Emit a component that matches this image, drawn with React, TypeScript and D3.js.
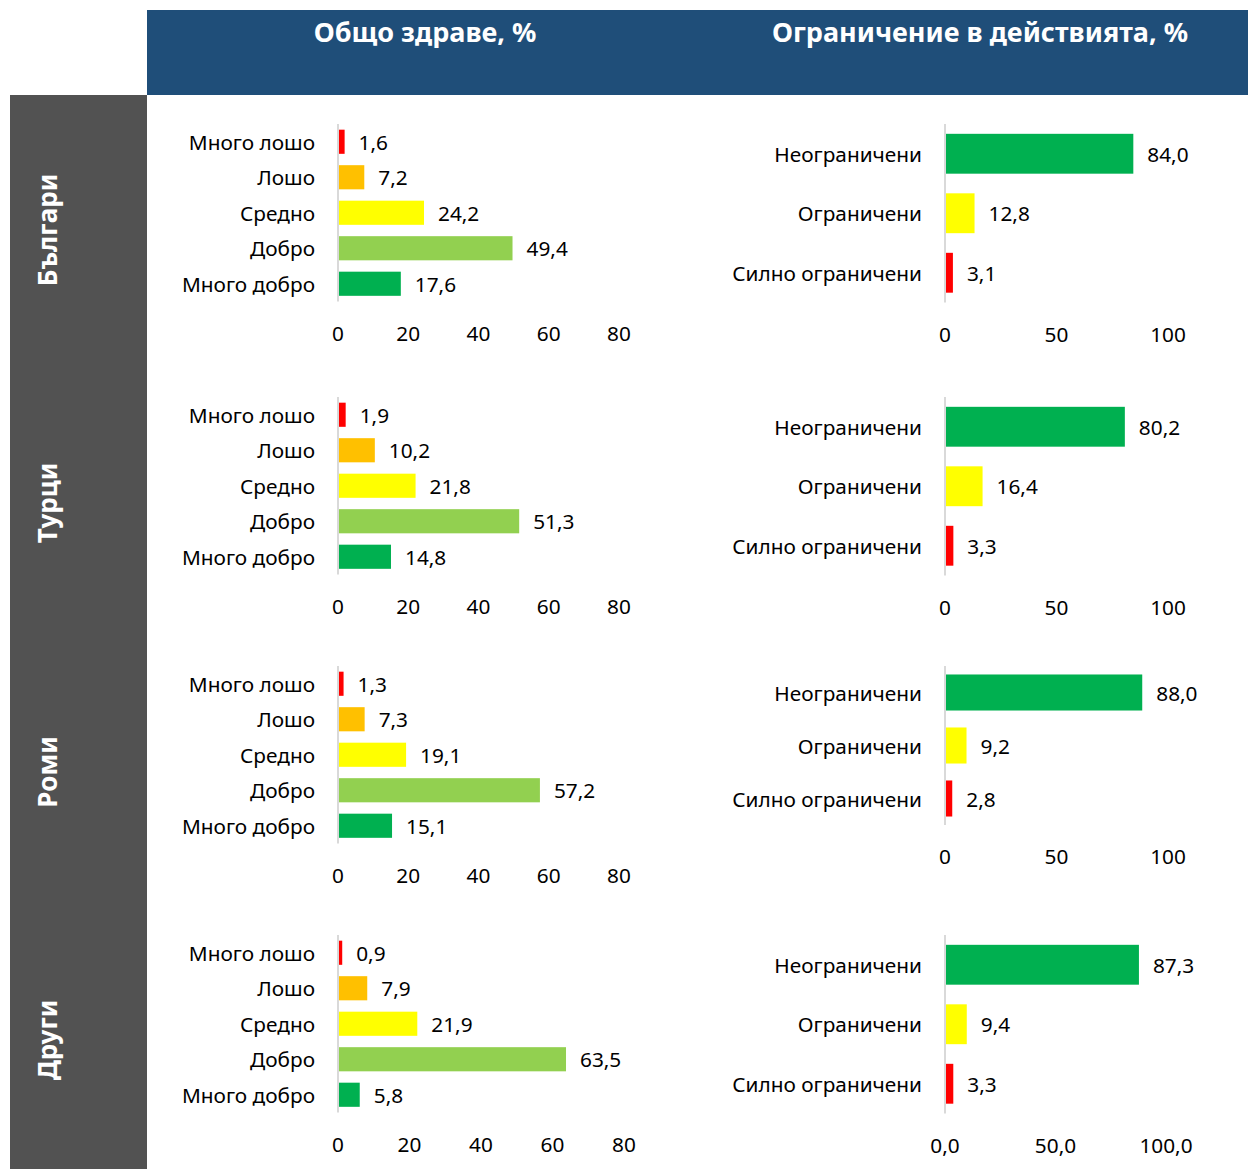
import React from "react"
import * as d3 from "d3"

const groups = ["Българи", "Турци", "Роми", "Други"]

const healthCats = ["Много лошо", "Лошо", "Средно", "Добро", "Много добро"]
const healthColors = ["#FF0000", "#FFC000", "#FFFF00", "#92D050", "#00B050"]
const healthBg = [1.6, 7.2, 24.2, 49.4, 17.6]
const healthTr = [1.9, 10.2, 21.8, 51.3, 14.8]
const healthRo = [1.3, 7.3, 19.1, 57.2, 15.1]
const healthOt = [0.9, 7.9, 21.9, 63.5, 5.8]
const healthTicks = [0, 20, 40, 60, 80]

const limitCats = ["Неограничени", "Ограничени", "Силно ограничени"]
const limitColors = ["#00B050", "#FFFF00", "#FF0000"]
const limitBg = [84.0, 12.8, 3.1]
const limitTr = [80.2, 16.4, 3.3]
const limitRo = [88.0, 9.2, 2.8]
const limitOt = [87.3, 9.4, 3.3]
const limitTicks = [0, 50, 100]

const titleLeft = "Общо здраве, %"
const titleRight = "Ограничение в действията, %"

const healthData = [healthBg, healthTr, healthRo, healthOt]
const limitData = [limitBg, limitTr, limitRo, limitOt]

// layout per row
const rowTops = [124, 397, 666, 935]
const rowLabelY = [230, 503, 772, 1040]
const limitStep = [59.5, 59.5, 53, 59.5]
const font = "'Noto Sans', sans-serif"
const fs = 20.8

const comma = (f: (n: number) => string) => (v: number) => f(v).replace(".", ",")
const fmt1 = comma(d3.format(".1f"))

function Panel({ cats, values, colors, ticks, top, step, barPad, x0, x1, domainMax, labelX, tickFmt }: any) {
    const x = d3.scaleLinear().domain([0, domainMax]).range([x0, x1])
    const y = d3.scaleBand<string>()
        .domain(cats)
        .range([top, top + step * cats.length])
        .paddingInner(barPad)
        .paddingOuter(barPad / 2)
    const bottom = top + step * cats.length
    return (
        <g>
            <line x1={x0} x2={x0} y1={top} y2={bottom} stroke="#d9d9d9" strokeWidth={2} />
            {cats.map((c: string, i: number) => (
                <g key={c}>
                    <rect x={x(0) + 1} y={y(c)} width={Math.max(0, x(values[i]) - x(0))} height={y.bandwidth()} fill={colors[i]} />
                    <text x={labelX} y={y(c)! + y.bandwidth() / 2} textAnchor="end" dominantBaseline="central"
                        fontSize={fs} fill="#000">{c}</text>
                    <text x={x(values[i]) + 15} y={y(c)! + y.bandwidth() / 2} dominantBaseline="central"
                        fontSize={fs} fill="#000">{fmt1(values[i])}</text>
                </g>
            ))}
            {ticks.map((t: number) => (
                <text key={t} x={x(t)} y={bottom + 31} textAnchor="middle" dominantBaseline="central"
                    fontSize={fs} fill="#000">{tickFmt(t)}</text>
            ))}
        </g>
    )
}

export default function App() {
    const W = 1248, H = 1169
    const plain = (t: number) => String(t)
    return (
        <div style={{ position: "absolute", left: 0, top: 0 }}>
            <svg width={W} height={H} style={{ display: "block", fontFamily: font }}>
                <rect x={0} y={0} width={W} height={H} fill="#fff" />
                <rect x={147} y={10} width={W - 147} height={85} fill="#1F4E79" />
                <text x={425} y={31} textAnchor="middle" dominantBaseline="central" fill="#fff"
                    fontSize={27} fontWeight="bold">{titleLeft}</text>
                <text x={980} y={31} textAnchor="middle" dominantBaseline="central" fill="#fff"
                    fontSize={27} fontWeight="bold">{titleRight}</text>
                <rect x={10} y={95} width={137} height={H - 95} fill="#525252" />
                {groups.map((g, r) => (
                    <g key={g}>
                        <text transform={`translate(47,${rowLabelY[r]}) rotate(-90)`} textAnchor="middle"
                            dominantBaseline="central" fill="#fff" fontSize={26} fontWeight="bold">{g}</text>
                        <Panel cats={healthCats} values={healthData[r]} colors={healthColors} ticks={healthTicks}
                            top={rowTops[r]} step={35.5} barPad={0.32} x0={338} x1={r === 3 ? 624 : 619}
                            domainMax={80} labelX={315} tickFmt={plain} />
                        <Panel cats={limitCats} values={limitData[r]} colors={limitColors} ticks={limitTicks}
                            top={rowTops[r]} step={limitStep[r]} barPad={r === 2 ? 0.32 : 0.33} x0={945} x1={r === 3 ? 1166 : 1168}
                            domainMax={100} labelX={922} tickFmt={r === 3 ? fmt1 : plain} />
                    </g>
                ))}
            </svg>
        </div>
    )
}
